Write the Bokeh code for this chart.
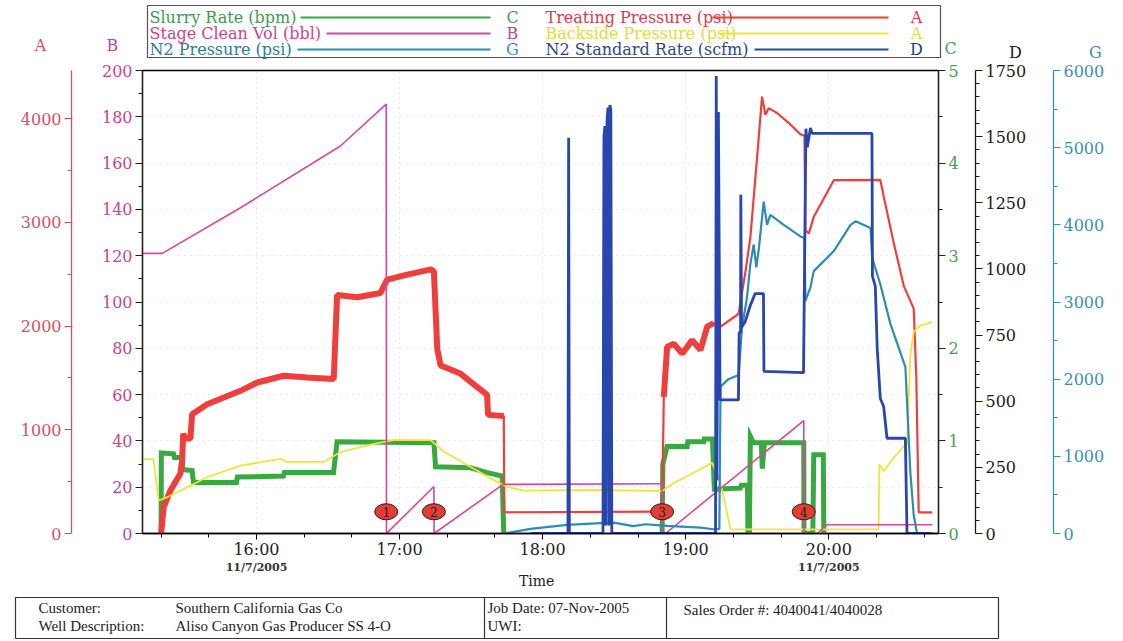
from bokeh.plotting import figure
from bokeh.models import Range1d, LinearAxis, FixedTicker
from bokeh.layouts import column
from bokeh.embed import file_html
from bokeh.resources import INLINE
from bokeh.core.properties import value

# ---------------- data (time = minutes since midnight, 7-Nov-2005) ----------------
treat_t = [920.0, 921.1, 923.9, 928.1, 928.8, 929.3, 930.2, 932.3, 933.0, 939.3, 953.3, 960.3,
           971.4, 981.3, 992.4, 993.8, 1002.2, 1012.0, 1014.8, 1023.2, 1033.0, 1034.4, 1035.8,
           1037.2, 1045.5, 1056.7, 1057.1, 1063.7, 1063.9, 1129.4, 1130.1, 1130.8, 1132.2,
           1135.0, 1138.5, 1142.7, 1146.2, 1149.0, 1151.7, 1154.6, 1162.2, 1165.1, 1167.1,
           1169.9, 1172.0, 1173.4, 1174.8, 1178.3, 1183.9, 1188.1, 1189.8, 1190.2, 1191.6,
           1193.7, 1202.1, 1221.6, 1223.0, 1227.2, 1231.4, 1235.6, 1236.7, 1237.7, 1243.4]
treat_psi = [0, 254, 415, 579, 704, 963, 915, 915, 1150, 1247, 1376, 1456,
             1521, 1505, 1490, 2300, 2279, 2319, 2448, 2497, 2547, 2528, 1780,
             1621, 1542, 1336, 1144, 1134, 205, 210, 210, 1318, 1800,
             1830, 1735, 1865, 1770, 1995, 2028, 1995, 2119, 2535, 2854,
             3620, 4213, 4038, 4102, 4055, 3945, 3850, 3835, 2928, 2892,
             3054, 3407, 3411, 3251, 2805, 2391, 2169, 1500, 204, 204]

slurry_t = [920.0, 920.1, 925.2, 925.6, 928.8, 929.1, 933.0, 933.6, 951.6, 952.0, 971.3, 971.7,
            992.3, 993.8, 1034.4, 1035.1, 1049.7, 1056.4, 1063.0, 1063.7,
            1130.1, 1130.4, 1132.2, 1140.6, 1140.9, 1147.6, 1147.8, 1151.2, 1152.0, 1162.9,
            1163.3, 1165.9, 1166.1, 1166.7, 1167.1, 1168.4, 1171.7, 1172.1, 1173.0, 1189.5,
            1189.6, 1193.3, 1193.7, 1197.7, 1197.9]
slurry_bpm = [0, 0.87, 0.86, 0.82, 0.82, 0.69, 0.68, 0.55, 0.55, 0.61, 0.62, 0.66,
              0.66, 0.99, 0.98, 0.72, 0.71, 0.66, 0.62, 0.0,
              0.0, 0.75, 0.94, 0.94, 0.99, 0.99, 1.02, 1.02, 0.48, 0.49,
              0.52, 0.52, 0.0, 0.0, 1.05, 0.98, 0.98, 0.70, 0.98, 0.98,
              0.0, 0.0, 0.85, 0.85, 0.0]

clean_t = [912.2, 920.5, 953.3, 995.2, 1014.4, 1014.5, 1034.4, 1034.5, 1063.4, 1129.4,
           1130.1, 1130.2, 1131.5, 1189.5, 1189.6, 1195.1, 1199.3, 1243.4]
clean_bbl = [121, 121, 140.7, 167.4, 185.5, 0, 20.3, 0, 21.2, 21.5,
             21.5, 0, 0, 48.8, 0, 0, 3.8, 3.8]

back_t = [912.2, 916.8, 919.0, 922.6, 928.1, 933.7, 939.3, 953.3, 970.1, 972.9, 988.2,
          995.2, 1009.2, 1017.6, 1033.0, 1038.5, 1051.1, 1059.5, 1065.1, 1072.1, 1104.2,
          1130.1, 1135.0, 1142.0, 1151.1, 1154.6, 1158.8, 1220.9, 1221.2, 1223.0, 1227.2,
          1231.4, 1232.8, 1234.2, 1235.6, 1238.4, 1243.4]
back_psi = [718, 718, 318, 350, 414, 478, 545, 655, 720, 690, 690,
            785, 865, 900, 900, 790, 625, 515, 450, 413, 420,
            409, 488, 569, 681, 491, 40, 40, 665, 601, 730,
            841, 859, 1720, 1945, 2005, 2040]

n2p_t = [1063.7, 1074.9, 1090.3, 1104.2, 1109.7, 1118.1, 1123.1, 1132.2, 1146.2, 1151.6,
         1154.1, 1154.6, 1157.9, 1162.2, 1163.6, 1165.7, 1167.1, 1168.5, 1169.6, 1170.7,
         1172.7, 1174.1, 1175.5, 1181.1, 1188.1, 1189.8, 1190.2, 1192.3, 1193.7, 1202.1,
         1209.1, 1211.2, 1217.5, 1218.2, 1221.6, 1225.8, 1232.1, 1234.2, 1235.6, 1237.0,
         1243.4]
n2p_psi = [0, 60, 112, 135, 140, 95, 120, 100, 75, 55,
           60, 1904, 2000, 2055, 2670, 3060, 3490, 3745, 3450, 3700,
           4300, 4000, 4130, 4000, 3850, 3830, 3015, 3190, 3400, 3660,
           4000, 4045, 3960, 3570, 3230, 2720, 2160, 790, 240, 0,
           0]

n2r_t = [1074.9, 1090.6, 1090.9, 1091.2, 1105.3, 1105.7, 1106.1, 1106.5, 1107.0, 1107.4,
         1107.8, 1108.2, 1108.6, 1109.0, 1152.5, 1152.8, 1153.1, 1153.7, 1154.4, 1162.1,
         1162.4, 1163.0, 1163.1, 1163.4, 1164.9, 1167.0, 1169.1, 1172.6, 1172.8, 1189.4,
         1190.4, 1191.0, 1192.3, 1193.0, 1218.1, 1218.3, 1219.5, 1220.3, 1221.6, 1223.0,
         1224.4, 1232.1, 1232.8, 1243.4]
n2r_scfm = [0, 0, 1496, 0, 0, 1500, 1540, 30, 1560, 1610,
            30, 1620, 1600, 0, 0, 1729, 200, 1593, 505, 505,
            760, 760, 1280, 780, 800, 860, 907, 907, 613, 608,
            1530, 1460, 1533, 1512, 1512, 972, 935, 700, 510, 480,
            360, 360, 0, 0]

stage_t = [1014.4, 1034.4, 1130.1, 1189.5]
stage_lbl = ["1", "2", "3", "4"]

hour_ticks = [960, 1020, 1080, 1140, 1200]
hour_labels = ["16:00", "17:00", "18:00", "19:00", "20:00"]
date_ticks = [960, 1200]
date_text = "11/7/2005"
time_title = "Time"
time_title_at = 1077.5

# ---------------- styles ----------------
SERIF = "DejaVu Serif"
RED = "#ef3f3c"
GREEN = "#38a840"
PINK = "#d8479b"
YELLOW = "#f0e43c"
TEAL = "#2e8cb4"
BLUE = "#2946ae"
A_COL = "#d4515f"
B_COL = "#c9438c"
C_COL = "#4a9e55"
D_COL = "#1a1a1a"
G_COL = "#3a8fb0"

W = 1123


def blank(fig):
    fig.xgrid.visible = False
    fig.ygrid.visible = False
    fig.outline_line_color = None
    fig.background_fill_color = "white"
    fig.border_fill_color = "white"


# ---------------- legend strip (page pixel coordinates) ----------------
leg = figure(width=W, height=62, x_range=Range1d(0, W), y_range=Range1d(62, 0),
             output_backend="svg", toolbar_location=None, min_border=0,
             x_axis_type=None, y_axis_type=None, frame_align=False)
blank(leg)
leg.quad(left=147, right=940, top=5, bottom=57, fill_color=None, line_color="#555555", line_width=1.2)

leg_rows = [17, 33, 49]
left_entries = [("Slurry Rate (bpm)", GREEN, "#3f9a50", "C", C_COL, 300),
                ("Stage Clean Vol (bbl)", PINK, "#cf4390", "B", B_COL, 326),
                ("N2 Pressure (psi)", TEAL, "#2a7c9c", "G", G_COL, 297)]
right_entries = [("Treating Pressure (psi)", RED, "#d73c48", "A", "#d83c48", 712),
                 ("Backside Pressure (psi)", YELLOW, "#e4d848", "A", "#e8d848", 720),
                 ("N2 Standard Rate (scfm)", BLUE, "#2a4a8a", "D", "#203a80", 754)]
for entries, tx, lend, lx in [(left_entries, 149, 490, 512), (right_entries, 545, 888, 916)]:
    for (lab, lcol, tcol, letter, letcol, lstart), yy in zip(entries, leg_rows):
        leg.text(x=[tx], y=[yy], text=[lab], text_font=value(SERIF), text_font_size="16px",
                 text_color=tcol, text_baseline="middle", text_align="left")
        leg.segment(x0=[lstart], y0=[yy], x1=[lend], y1=[yy], line_color=lcol, line_width=2)
        leg.text(x=[lx], y=[yy], text=[letter], text_font=value(SERIF), text_font_size="16px",
                 text_color=letcol, text_baseline="middle", text_align="center")

for letter, lx, ly, col in [("A", 40, 45, A_COL), ("B", 112, 45, B_COL), ("C", 950, 48, C_COL),
                            ("D", 1015, 52, D_COL), ("G", 1095, 52, G_COL)]:
    leg.text(x=[lx], y=[ly], text=[letter], text_font=value(SERIF), text_font_size="16px",
             text_color=col, text_baseline="middle", text_align="center")

# ---------------- main chart ----------------
p = figure(width=W, height=499, output_backend="svg", toolbar_location=None,
           x_range=Range1d(912.2, 1246.0), y_range=Range1d(0, 200),
           min_border_left=142, min_border_right=185, min_border_top=8, min_border_bottom=25)
p.extra_y_ranges = {"A": Range1d(0, 4465), "C": Range1d(0, 5), "D": Range1d(0, 1750),
                    "G": Range1d(0, 6000)}
p.outline_line_color = "black"
p.outline_line_width = 1.3
p.background_fill_color = "white"
p.border_fill_color = "white"


def style_axis(ax, lab_color, line_color, pad=None):
    ax.major_label_text_font = SERIF
    ax.major_label_text_font_size = "16px"
    ax.major_label_text_color = lab_color
    ax.axis_line_color = line_color
    ax.axis_line_width = 1.3
    ax.major_tick_line_color = line_color
    ax.minor_tick_line_color = line_color
    ax.major_tick_in = 0
    ax.major_tick_out = 7
    ax.minor_tick_in = 0
    ax.minor_tick_out = 4
    ax.major_label_standoff = 3
    if pad is not None:
        ax.axis_label = " "
        ax.axis_label_text_font_size = "1px"
        ax.axis_label_standoff = pad


axB = p.yaxis[0]
axB.ticker = FixedTicker(ticks=list(range(0, 201, 20)), minor_ticks=list(range(10, 200, 20)))
style_axis(axB, B_COL, "#222222", pad=23)

axA = LinearAxis(y_range_name="A",
                 ticker=FixedTicker(ticks=[0, 1000, 2000, 3000, 4000], minor_ticks=[500, 1500, 2500, 3500]))
style_axis(axA, A_COL, A_COL)
p.add_layout(axA, "left")

axC = LinearAxis(y_range_name="C",
                 ticker=FixedTicker(ticks=[0, 1, 2, 3, 4, 5], minor_ticks=[0.5, 1.5, 2.5, 3.5, 4.5]))
style_axis(axC, C_COL, "#222222", pad=10)
p.add_layout(axC, "right")

axD = LinearAxis(y_range_name="D",
                 ticker=FixedTicker(ticks=list(range(0, 1751, 250)),
                                    minor_ticks=[v for v in range(0, 1751, 50) if v % 250]))
style_axis(axD, D_COL, D_COL, pad=20)
p.add_layout(axD, "right")

axG = LinearAxis(y_range_name="G",
                 ticker=FixedTicker(ticks=list(range(0, 6001, 1000)), minor_ticks=list(range(500, 6000, 1000))))
style_axis(axG, G_COL, G_COL)
p.add_layout(axG, "right")

ax = p.xaxis[0]
ax.ticker = FixedTicker(ticks=hour_ticks,
                        minor_ticks=[t + d for t in [900] + hour_ticks for d in (20, 40)])
ax.major_label_overrides = {t: s for t, s in zip(hour_ticks, hour_labels)}
ax.major_label_text_font = SERIF
ax.major_label_text_font_size = "16px"
ax.major_label_text_color = "#222222"
ax.major_tick_in = 0
ax.major_tick_out = 6
ax.minor_tick_in = 0
ax.minor_tick_out = 4
ax.major_label_standoff = 0
ax.axis_line_color = "black"
ax.axis_line_width = 1.3

p.xgrid.grid_line_color = "#cfcfcf"
p.xgrid.grid_line_dash = "1 4"
p.ygrid.grid_line_color = "#d6d6d6"
p.ygrid.grid_line_dash = "1 5"

# slurry rate (thick noisy band)
seg_g = [[(t, v) for t, v in zip(slurry_t, slurry_bpm) if t <= 1063.7],
         [(t, v) for t, v in zip(slurry_t, slurry_bpm) if 1130.1 <= t <= 1197.9]]
p.multi_line(xs=[[a for a, b in s] for s in seg_g], ys=[[b for a, b in s] for s in seg_g],
             y_range_name="C", line_color=GREEN, line_width=5, line_join="miter")

# treating pressure: thin full trace + thick noisy stretches
p.line(treat_t, treat_psi, y_range_name="A", line_color=RED, line_width=2.2)
seg_r = [[(t, v) for t, v in zip(treat_t, treat_psi) if t <= 1063.7],
         [(t, v) for t, v in zip(treat_t, treat_psi) if 1130.8 <= t <= 1151.7]]
p.multi_line(xs=[[a for a, b in s] for s in seg_r], ys=[[b for a, b in s] for s in seg_r],
             y_range_name="A", line_color=RED, line_width=6)

p.line(back_t, back_psi, y_range_name="A", line_color=YELLOW, line_width=1.8)
p.line(clean_t, clean_bbl, line_color=PINK, line_width=1.6)
p.line(n2p_t, n2p_psi, y_range_name="G", line_color=TEAL, line_width=2.2)
p.line(n2r_t, n2r_scfm, y_range_name="D", line_color=BLUE, line_width=2.8)

p.ellipse(x=stage_t, y=9.4, width=23, height=16, width_units="screen", height_units="screen",
          fill_color="#e63c36", line_color="#222222", line_width=1)
p.text(x=stage_t, y=9.4, text=stage_lbl, text_align="center", text_baseline="middle",
       text_font=value(SERIF), text_font_size="12px", text_color="#222222")

# ---------------- date + axis title strip (shares the time scale) ----------------
dfig = figure(width=W, height=29, x_range=p.x_range, y_range=Range1d(29, 0),
              output_backend="svg", toolbar_location=None, min_border=0,
              x_axis_type=None, y_axis_type=None)
blank(dfig)
dfig.text(x=date_ticks, y=6, text=[date_text] * len(date_ticks), text_align="center",
          text_baseline="middle", text_font=value(SERIF), text_font_size="11px",
          text_font_style="bold", text_color="#333333")
dfig.text(x=[time_title_at], y=[19], text=[time_title], text_align="center", text_baseline="middle",
          text_font=value(SERIF), text_font_size="14px", text_color="#222222")

# ---------------- info table (page pixel coordinates) ----------------
tab = figure(width=W, height=51, x_range=Range1d(0, W), y_range=Range1d(641, 590),
             output_backend="svg", toolbar_location=None, min_border=0,
             x_axis_type=None, y_axis_type=None, frame_align=False)
blank(tab)
tab.quad(left=15, right=998, top=597, bottom=638, fill_color=None, line_color="#333333", line_width=1.2)
tab.segment(x0=[484, 666], y0=[597, 597], x1=[484, 666], y1=[638, 638], line_color="#333333", line_width=1.2)
info = [("Customer:", 38, 607), ("Southern California Gas Co", 175, 607),
        ("Well Description:", 38, 625), ("Aliso Canyon Gas Producer SS 4-O", 175, 625),
        ("Job Date:  07-Nov-2005", 487, 607), ("UWI:", 487, 625),
        ("Sales Order #:  4040041/4040028", 683, 609)]
tab.text(x=[i[1] for i in info], y=[i[2] for i in info], text=[i[0] for i in info],
         text_font=value("Liberation Serif"), text_font_size="15px", text_color="#222222",
         text_baseline="middle", text_align="left")

layout = column(leg, p, dfig, tab)
open("out.html", "w").write(file_html(layout, INLINE))
